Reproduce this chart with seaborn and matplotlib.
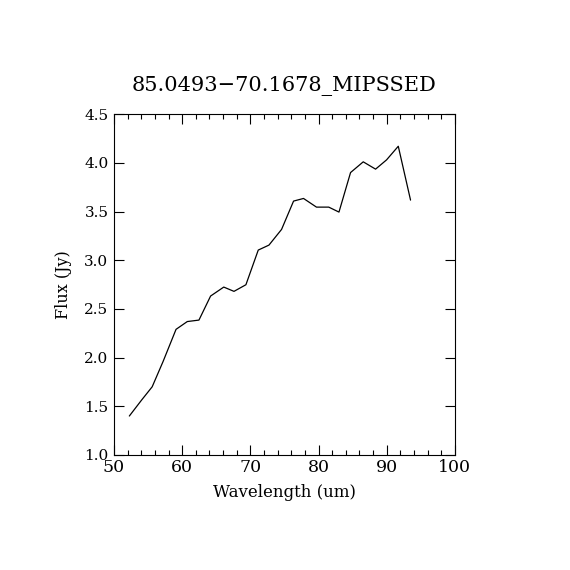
import matplotlib
matplotlib.use("Agg")
import matplotlib.pyplot as plt
import seaborn as sns
from matplotlib.ticker import MultipleLocator

wavelength = [52.25, 54.06, 55.6, 57.2, 59.1, 60.75, 62.46, 64.17, 66.1, 67.6,
              69.35, 71.16, 72.73, 74.58, 76.34, 77.8, 79.7, 81.5, 83.0, 84.7,
              86.56, 88.37, 89.98, 91.7, 93.5]
flux = [1.40, 1.565, 1.70, 1.96, 2.29, 2.37, 2.385, 2.632, 2.724, 2.68,
        2.748, 3.104, 3.155, 3.316, 3.607, 3.634, 3.545, 3.545, 3.494, 3.90,
        4.01, 3.935, 4.03, 4.17, 3.617]

sns.set_style("ticks")
plt.rcParams['font.family'] = ['DejaVu Serif']
plt.rcParams['text.color'] = 'black'
plt.rcParams['axes.labelcolor'] = 'black'

fig = plt.figure(figsize=(5.7, 5.7), dpi=100)
ax = fig.add_axes([0.2, 0.2018, 0.598, 0.598])
sns.lineplot(x=wavelength, y=flux, ax=ax, color='black', linewidth=0.9)

ax.set_xlim(50, 100)
ax.set_ylim(1.0, 4.5)
ax.xaxis.set_major_locator(MultipleLocator(10))
ax.xaxis.set_minor_locator(MultipleLocator(2))
ax.yaxis.set_major_locator(MultipleLocator(0.5))
ax.yaxis.set_major_formatter(matplotlib.ticker.FormatStrFormatter('%.1f'))
ax.tick_params(which='both', direction='in', top=True, right=True, colors='black')
ax.tick_params(axis='x', labelsize=12.5, pad=3)
ax.tick_params(axis='y', labelsize=11, pad=4)
ax.tick_params(which='major', length=7, width=0.8)
ax.tick_params(which='minor', length=3.5, width=0.8)
for s in ax.spines.values():
    s.set_linewidth(0.8)
    s.set_color('black')

ax.set_xlabel("Wavelength (um)", fontsize=12, labelpad=6, color='black')
ax.set_ylabel("Flux (Jy)", fontsize=11.5, labelpad=9, color='black')
ax.set_title("85.0493\u221270.1678_MIPSSED", fontsize=15, pad=17, color='black')

fig.savefig("out.png", dpi=100, facecolor='white')
